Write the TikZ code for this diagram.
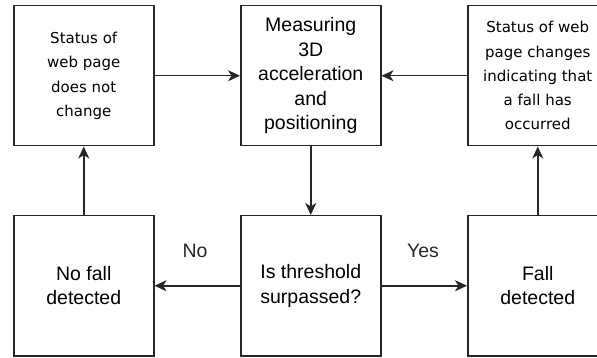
\documentclass[tikz,border=0pt]{standalone}
\usepackage{fontspec}
\setmainfont{Liberation Sans}
\newfontfamily\smallfam{DejaVu Sans}
\usetikzlibrary{arrows.meta}
\begin{document}
\begin{tikzpicture}[x=1pt,y=-1pt,
  box/.style={draw=black!85,line width=1.5pt,minimum width=140pt,minimum height=140pt,inner sep=0pt,align=center,anchor=north west},
  bigtxt/.style={font=\fontsize{19.5}{24.5}\selectfont},
  smalltxt/.style={font=\smallfam\fontsize{15}{24.3}\selectfont},
  conn/.style={draw=black!85,line width=1.5pt,-{Stealth[length=12pt,width=11pt,inset=3.5pt]}},
  lbl/.style={font=\fontsize{19.5}{24.5}\selectfont,text=black!85}]
\useasboundingbox (0,0) rectangle (597,358);
\node[box,smalltxt] (nochg) at (13,5) {Status of\\web page\\does not\\change};
\node[box,bigtxt] (meas) at (240,5) {Measuring\\3D\\acceleration\\and\\positioning};
\node[box,smalltxt] (chg) at (467,5) {Status of web\\page changes\\indicating that\\a fall has\\occurred};
\node[box,bigtxt] (nofall) at (13,215) {No fall\\detected};
\node[box,bigtxt] (thr) at (240,215) {Is threshold\\surpassed?};
\node[box,bigtxt] (fall) at (467,215) {Fall\\detected};
\draw[conn] (nochg.east) -- (meas.west);
\draw[conn] (chg.west) -- (meas.east);
\draw[conn] (meas.south) -- (thr.north);
\draw[conn] (thr.west) -- (nofall.east);
\draw[conn] (thr.east) -- (fall.west);
\draw[conn] (nofall.north) -- (nochg.south);
\draw[conn] (fall.north) -- (chg.south);
\node[lbl] (no) at (195,251) {No};
\node[lbl] (yes) at (423,251) {Yes};
\end{tikzpicture}
\end{document}
